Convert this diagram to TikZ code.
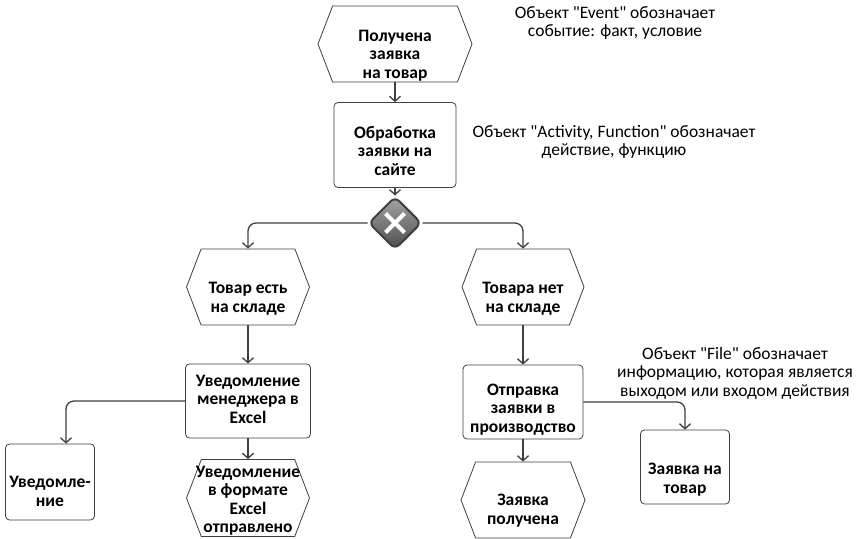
\documentclass[tikz,border=0pt]{standalone}
\usepackage{fontspec}
\setmainfont{Carlito}
\usetikzlibrary{positioning, shapes.symbols, shapes.geometric, arrows.meta}
% text block of a node, lowered by #1 below the middle of the shape
\newcommand{\lowtxt}[2][10pt]{\raisebox{\dimexpr-#1-4.5pt\relax}[0pt][0pt]{\makebox[0pt]{\begin{tabular}{@{}c@{}}#2\end{tabular}}}}
\tikzset{
flow/.style={draw=black!75, line width=1.3pt, -{Straight Barb[length=5pt,width=11pt]}, rounded corners=8pt}, % connectors
base/.style={draw=black!75, line width=0.8pt, inner sep=0pt, font=\fontsize{17.5}{18.5}\selectfont\bfseries},
evt/.style={base, signal, signal to=west and east, signal pointer angle=138, minimum height=76pt}, % event
fnc/.style={base, rectangle, rounded corners=4pt, minimum width=122pt, minimum height=74pt}, % function
fil/.style={base, rectangle, rounded corners=4pt, minimum width=89pt, minimum height=76pt}, % file
note/.style={align=center, font=\fontsize{17.5}{18.5}\selectfont},
xorgate/.style={diamond, minimum size=53pt, inner sep=0pt, rounded corners=6pt, draw=black!75, line width=2pt, top color=black!35, bottom color=black!70,
  path picture={\draw[white, line width=4pt] ([shift={(-9.5pt,-9.5pt)}]path picture bounding box.center) -- ++(19pt,19pt)
    ([shift={(-9.5pt,9.5pt)}]path picture bounding box.center) -- ++(19pt,-19pt);}},
}
\begin{document}
\begin{tikzpicture}[x=1pt, y=-1pt]
    \useasboundingbox[fill=white] (0,0) rectangle (858,538);
    % main chain
    \node[evt, minimum width=154pt] (evReq) at (395,44) {\lowtxt[12pt]{Получена\\заявка\\на товар}};
    \node[fnc, below of=evReq, node distance=101pt, minimum height=85pt] (fnSite) {\lowtxt[8pt]{Обработка\\заявки на\\сайте}};
    \node[xorgate, below of=fnSite, node distance=78pt] (xor) {};

    % left branch
    \node[evt, minimum width=123pt, below of=xor, node distance=64pt, xshift=-147pt] (evStock) {\lowtxt[12pt]{Товар есть\\на складе}};
    \node[fnc, below of=evStock, node distance=114pt, minimum width=125pt] (fnMgr) {\lowtxt[0pt]{Уведомление\\менеджера в\\Excel}};
    \node[evt, minimum width=123pt, minimum height=77pt, below of=fnMgr, node distance=97pt] (evSent) {\lowtxt[3pt]{Уведомление\\в формате\\Excel\\отправлено}};
    \node[fil, below of=fnMgr, node distance=81pt, xshift=-198pt] (fiNote) {\lowtxt[11pt]{Уведомле-\\ние}};

    % right branch
    \node[evt, minimum width=122pt, below of=xor, node distance=64pt, xshift=128pt] (evNoStock) {\lowtxt[12pt]{Товара нет\\на складе}};
    \node[fnc, below of=evNoStock, node distance=115pt, minimum width=120pt] (fnProd) {\lowtxt[8pt]{Отправка\\заявки в\\производство}};
    \node[evt, minimum width=124pt, below of=fnProd, node distance=98pt] (evGot) {\lowtxt[11pt]{Заявка\\получена}};
    \node[fil, minimum height=74pt, below of=fnProd, node distance=65pt, xshift=162pt] (fiReq) {\lowtxt[13pt]{Заявка на\\товар}};

    % notes
    \node[note] (noteEv) at (615,23) {Объект \textquotedbl Event\textquotedbl{} обозначает\\событие: факт, условие};
    \node[note] (noteFn) at (614,142) {Объект \textquotedbl Activity, Function\textquotedbl{} обозначает\\действие, функцию};
    \node[note] (noteFi) at (735,373) {Объект \textquotedbl File\textquotedbl{} обозначает\\информацию, которая является\\выходом или входом действия};

    \draw[flow] (evReq) -- (fnSite);
    \draw[flow] (fnSite) -- (xor);
    \draw[flow] (xor.west) -| (evStock.north);
    \draw[flow] (xor.east) -| (evNoStock.north);
    \draw[flow] (evStock) -- (fnMgr);
    \draw[flow] (evNoStock) -- (fnProd);
    \draw[flow] (fnMgr) -- (evSent);
    \draw[flow] (fnProd) -- (evGot);
    \draw[flow] (fnMgr.west) -| ([xshift=16pt]fiNote.north);
    \draw[flow] (fnProd.east) -| (fiReq.north);
\end{tikzpicture}
\end{document}
